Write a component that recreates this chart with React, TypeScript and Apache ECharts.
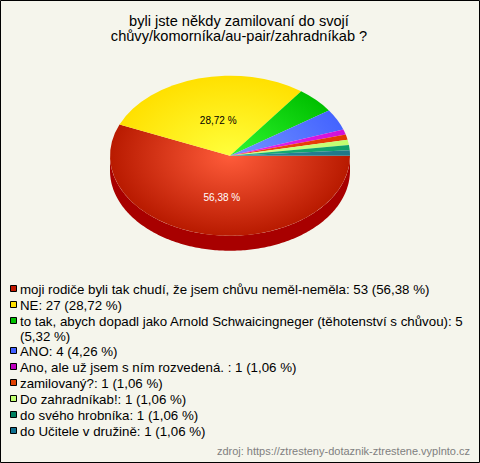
import React, { useEffect, useRef } from "react";
import * as echarts from "echarts";

const titleLines = ["byli jste někdy zamilovaní do svojí", "chůvy/komorníka/au-pair/zahradníkab ?"];
const sliceNames = [
  "moji rodiče byli tak chudí, že jsem chůvu neměl-neměla",
  "NE",
  "to tak, abych dopadl jako Arnold Schwaicingneger (těhotenství s chůvou)",
  "ANO",
  "Ano, ale už jsem s ním rozvedená. ",
  "zamilovaný?",
  "Do zahradníkab!",
  "do svého hrobníka",
  "do Učitele v družině",
];
const sliceValues = [53, 27, 5, 4, 1, 1, 1, 1, 1];
const slicePercents = ["56,38 %", "28,72 %", "5,32 %", "4,26 %", "1,06 %", "1,06 %", "1,06 %", "1,06 %", "1,06 %"];
const labelledSlices = [0, 1];
const innerColors = ["#ff5c3a", "#ffff3c", "#30f830", "#7494ff", "#e828f0", "#f84818", "#d8ff88", "#18b078", "#2c88a0"];
const outerColors = ["#b81a00", "#ffe000", "#00c000", "#4464ff", "#d010d8", "#e03800", "#c0ff70", "#10a068", "#207888"];
const swatchColors = ["#c01800", "#ffe000", "#00c000", "#4060ff", "#c000c0", "#e04000", "#c0ff70", "#008060", "#107090"];
const wallColor = "#a80000";
const sourceText = "zdroj: https://ztresteny-dotaznik-ztrestene.vyplnto.cz";

const CX = 230, CY = 155.7, R = 120, SCALE_Y = 2 / 3, DEPTH = 15, TAU = Math.PI * 2;
const total = sliceValues.reduce((a, b) => a + b, 0);

function wallPoints(a0: number, a1: number) {
  const from = Math.max(a0, 0), to = Math.min(a1, Math.PI);
  if (to <= from) return null;
  const top: number[][] = [], bottom: number[][] = [];
  const steps = Math.max(2, Math.ceil((to - from) * 60));
  for (let i = 0; i <= steps; i++) {
    const t = from + ((to - from) * i) / steps;
    top.push([R * Math.cos(t), R * Math.sin(t)]);
    bottom.unshift([R * Math.cos(t), R * Math.sin(t) + DEPTH / SCALE_Y]);
  }
  return top.concat(bottom);
}

function renderSlice(params: any, api: any) {
  const i = params.dataIndex;
  const before = sliceValues.slice(0, i).reduce((a, b) => a + b, 0);
  const a0 = (before / total) * TAU;
  const a1 = ((before + api.value(0)) / total) * TAU;
  const children: any[] = [];
  const wall = wallPoints(a0, a1);
  if (wall) {
    children.push({ type: "polygon", shape: { points: wall }, style: { fill: wallColor } });
  }
  children.push({
    type: "sector",
    shape: { cx: 0, cy: 0, r0: 0, r: R, startAngle: a0, endAngle: a1, clockwise: true },
    style: {
      fill: new echarts.graphic.RadialGradient(0, 0, R, [
        { offset: 0, color: innerColors[i] },
        { offset: 1, color: outerColors[i] },
      ], true),
    },
  });
  return { type: "group", x: CX, y: CY, scaleY: SCALE_Y, children };
}

function renderLabels(params: any) {
  const i = labelledSlices[params.dataIndex];
  const before = sliceValues.slice(0, i).reduce((a, b) => a + b, 0);
  const mid = ((before + sliceValues[i] / 2) / total) * TAU;
  return {
    type: "text",
    x: CX + 3 + 56 * Math.cos(mid),
    y: CY + 60 * SCALE_Y * Math.sin(mid) + 3,
    style: {
      text: slicePercents[i],
      fill: i === 0 ? "#ffffff" : "#000000",
      font: "10px 'Liberation Sans'",
      align: "center",
      verticalAlign: "middle",
    },
  };
}

const legendRows = sliceNames.map((n, i) => {
  const head = `${n}: ${sliceValues[i]}`;
  return i === 2 ? `${head}\n(${slicePercents[i]})` : `${head} (${slicePercents[i]})`;
});

function legendGraphics() {
  const out: any[] = [];
  let y = 289;
  legendRows.forEach((text, i) => {
    out.push({
      type: "rect",
      shape: { x: 10.5, y: y - 3.5, width: 6, height: 6 },
      style: { fill: swatchColors[i], stroke: "#000000", lineWidth: 1 },
    });
    out.push({
      type: "text",
      x: 20,
      y: y - 7,
      style: { text, fill: "#000000", font: "13.3px 'Liberation Sans'", lineHeight: 15 },
    });
    y += text.includes("\n") ? 30 : 16;
  });
  return out;
}

export default function App() {
  const ref = useRef<HTMLDivElement>(null);
  useEffect(() => {
    document.body.style.margin = "0";
    const chart = echarts.init(ref.current!, null, { renderer: "svg" });
    chart.setOption({
      animation: false,
      backgroundColor: "#f5f5ec",
      tooltip: { show: false },
      graphic: [
        {
          type: "rect",
          shape: { x: 0.5, y: 0.5, width: 479, height: 462 },
          style: { fill: "none", stroke: "#000000", lineWidth: 1 },
        },
        ...titleLines.map((text, i) => ({
          type: "text",
          x: 239,
          y: 21 + i * 14.7,
          style: { text, fill: "#000000", font: "14.6px 'Liberation Sans'", align: "center", verticalAlign: "middle" },
        })),
        ...legendGraphics(),
        {
          type: "text",
          x: 470,
          y: 451,
          style: { text: sourceText, fill: "#808080", font: "11px 'Liberation Sans'", align: "right", verticalAlign: "middle" },
        },
      ],
      series: [
        {
          type: "custom",
          coordinateSystem: "none",
          renderItem: renderSlice,
          data: sliceValues.map((v) => [v]),
          silent: true,
          z: 2,
        },
        {
          type: "custom",
          coordinateSystem: "none",
          renderItem: renderLabels,
          data: labelledSlices.map((i) => [sliceValues[i]]),
          silent: true,
          z: 3,
        },
      ],
    });
    return () => chart.dispose();
  }, []);
  return <div ref={ref} style={{ width: 480, height: 463 }} />;
}
